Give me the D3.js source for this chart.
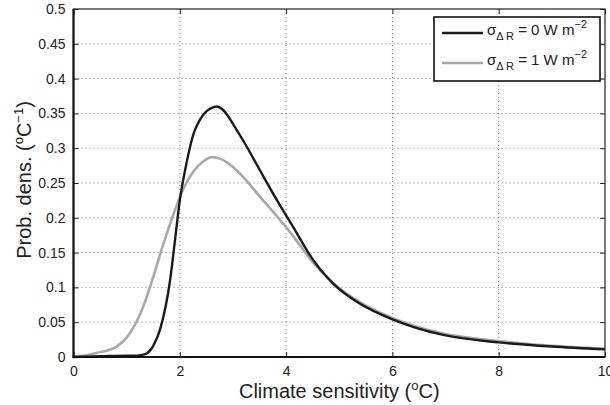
<!DOCTYPE html>
<html>
<head>
<meta charset="utf-8">
<script src="https://cdn.jsdelivr.net/npm/d3@7"></script>
<style>
  body { margin: 0; background: #fff; }
  text { font-family: "Liberation Sans", Arial, sans-serif; fill: #222; }
</style>
</head>
<body>
<svg id="chart" width="610" height="405"></svg>
<script>
// sigma = 0 W m^-2 (black)
const xBlack = [0, 0.5, 1.0, 1.2, 1.35, 1.5, 1.63, 1.82, 1.91, 2.0, 2.13, 2.26, 2.38, 2.5, 2.6, 2.7, 2.8, 2.9, 3.0, 3.2, 3.51, 3.83, 4.14, 4.45, 4.89, 5.4, 6.0, 6.4, 7.0, 8.0, 9.0, 10];
const yBlack = [0, 0.001, 0.002, 0.002, 0.004, 0.016, 0.040, 0.112, 0.168, 0.225, 0.280, 0.321, 0.341, 0.353, 0.358, 0.360, 0.356, 0.347, 0.335, 0.310, 0.268, 0.225, 0.186, 0.146, 0.105, 0.076, 0.054, 0.043, 0.031, 0.021, 0.015, 0.011];
// sigma = 1 W m^-2 (grey)
const xGrey = [0, 0.2, 0.44, 0.81, 1.06, 1.31, 1.5, 1.69, 1.88, 2.07, 2.26, 2.44, 2.6, 2.75, 2.88, 3.0, 3.2, 3.51, 3.83, 4.14, 4.45, 4.89, 5.4, 6.0, 6.4, 7.0, 8.0, 9.0, 10];
const yGrey = [0.001, 0.002, 0.006, 0.015, 0.034, 0.072, 0.115, 0.162, 0.205, 0.242, 0.267, 0.281, 0.287, 0.285, 0.280, 0.273, 0.258, 0.230, 0.202, 0.173, 0.141, 0.106, 0.078, 0.056, 0.045, 0.033, 0.023, 0.016, 0.012];

const xTicks = [0, 2, 4, 6, 8, 10];
const yTicks = [0, 0.05, 0.1, 0.15, 0.2, 0.25, 0.3, 0.35, 0.4, 0.45, 0.5];

const svg = d3.select("#chart");
const pl = 73.5, pr = 605, pt = 9, pb = 357;

const x = d3.scaleLinear().domain([0, 10]).range([pl, pr]);
const y = d3.scaleLinear().domain([0, 0.5]).range([pb, pt]);

// grid
const grid = svg.append("g").attr("stroke", "#777").attr("stroke-width", 1)
  .attr("stroke-dasharray", "1,3");
grid.selectAll(".gx").data(xTicks.slice(1, -1)).join("line").attr("class", "gx")
  .attr("x1", d => x(d)).attr("x2", d => x(d)).attr("y1", pt).attr("y2", pb);
grid.selectAll(".gy").data(yTicks.slice(1, -1)).join("line").attr("class", "gy")
  .attr("y1", d => y(d)).attr("y2", d => y(d)).attr("x1", pl).attr("x2", pr);

// curves
const line = d3.line().x(d => x(d[0])).y(d => y(d[1])).curve(d3.curveMonotoneX);
svg.append("path").datum(d3.zip(xGrey, yGrey))
  .attr("d", line).attr("fill", "none").attr("stroke", "#a8a8a8").attr("stroke-width", 2.6);
svg.append("path").datum(d3.zip(xBlack, yBlack))
  .attr("d", line).attr("fill", "none").attr("stroke", "#1a1a1a").attr("stroke-width", 2.4);

// axes (ticks inward, box)
const axB = d3.axisBottom(x).tickValues(xTicks).tickSizeInner(-5).tickSizeOuter(0).tickPadding(9);
const axL = d3.axisLeft(y).tickValues(yTicks).tickSizeInner(-5).tickSizeOuter(0).tickPadding(8)
  .tickFormat(d3.format("~g"));
svg.append("g").attr("transform", `translate(0,${pb})`).call(axB);
svg.append("g").attr("transform", `translate(${pl},0)`).call(axL);
svg.append("g").attr("transform", `translate(0,${pt})`)
  .call(d3.axisTop(x).tickValues(xTicks).tickSizeInner(-5).tickSizeOuter(0).tickFormat(""));
svg.append("g").attr("transform", `translate(${pr},0)`)
  .call(d3.axisRight(y).tickValues(yTicks).tickSizeInner(-5).tickSizeOuter(0).tickFormat(""));
svg.selectAll(".domain").remove();
svg.selectAll(".tick line").attr("stroke", "#222");
svg.selectAll(".tick text").attr("font-size", 14).attr("fill", "#222")
  .attr("font-family", "'Liberation Sans', Arial, sans-serif");

svg.append("rect").attr("x", pl).attr("y", pt).attr("width", pr - pl).attr("height", pb - pt)
  .attr("fill", "none").attr("stroke", "#222").attr("stroke-width", 1.2);
svg.append("line").attr("x1", pl).attr("x2", pl).attr("y1", pt).attr("y2", pb + 1)
  .attr("stroke", "#111").attr("stroke-width", 2.2);
svg.append("line").attr("x1", pl - 1).attr("x2", pr).attr("y1", pb).attr("y2", pb)
  .attr("stroke", "#111").attr("stroke-width", 2.2);

// axis labels
const xl = svg.append("text").attr("x", (pl + pr) / 2).attr("y", 398)
  .attr("text-anchor", "middle").attr("font-size", 20);
xl.append("tspan").text("Climate sensitivity (");
xl.append("tspan").text("o").attr("font-size", 13).attr("dy", -8);
xl.append("tspan").text("C)").attr("dy", 8);

const yl = svg.append("text").attr("transform", `translate(31,180) rotate(-90)`)
  .attr("text-anchor", "middle").attr("font-size", 20);
yl.append("tspan").text("Prob. dens. (");
yl.append("tspan").text("o").attr("font-size", 13).attr("dy", -8);
yl.append("tspan").text("C").attr("dy", 8);
yl.append("tspan").text("\u22121").attr("font-size", 13).attr("dy", -8);
yl.append("tspan").text(")").attr("dy", 8);

// legend
const legend = [
  { label: "0", color: "#1a1a1a" },
  { label: "1", color: "#a8a8a8" }
];
const lg = svg.append("g");
lg.append("rect").attr("x", 434).attr("y", 17).attr("width", 166).attr("height", 64)
  .attr("fill", "#fff").attr("stroke", "#111").attr("stroke-width", 1.6);
legend.forEach((d, i) => {
  const yy = 33 + i * 30;
  lg.append("line").attr("x1", 442).attr("x2", 483).attr("y1", yy).attr("y2", yy)
    .attr("stroke", d.color).attr("stroke-width", 2.6);
  const t = lg.append("text").attr("x", 487).attr("y", yy + 2).attr("font-size", 15);
  t.append("tspan").text("\u03c3");
  t.append("tspan").text("\u0394 R").attr("font-size", 11).attr("dy", 5);
  t.append("tspan").text(` = ${d.label} W m`).attr("dy", -5);
  t.append("tspan").text("\u22122").attr("font-size", 11).attr("dy", -7);
});
</script>
</body>
</html>
